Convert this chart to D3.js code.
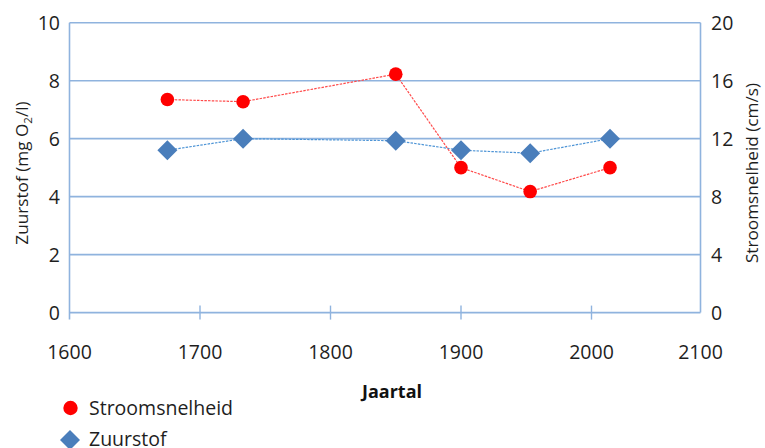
<!DOCTYPE html>
<html>
<head>
<meta charset="utf-8">
<script src="https://cdn.jsdelivr.net/npm/d3@7"></script>
<style>
  html, body { margin: 0; padding: 0; background: #fff; }
  svg { display: block; font-family: "Open Sans", "Liberation Sans", sans-serif; }
</style>
</head>
<body>
<svg id="chart" width="765" height="448"></svg>
<script>
// Meetjaren en gemeten waarden
const years = [1675, 1733, 1850, 1900, 1953, 2017];
const stroomsnelheid = [14.7, 14.55, 16.45, 10.0, 8.35, 10.0]; // cm/s (rechteras)
const zuurstof = [5.6, 6.0, 5.93, 5.6, 5.5, 6.0];              // mg O2/l (linkeras)

const xTicks = [1600, 1700, 1800, 1900, 2000, 2100];
const leftTicks = [0, 2, 4, 6, 8, 10];
const rightTicks = [0, 4, 8, 12, 16, 20];

const svg = d3.select("#chart");
const plotLeft = 69.5, plotRight = 700.5, plotTop = 22.7, plotBottom = 312.6;

const x = d3.scaleLinear().domain([1600, 2000, 2100]).range([plotLeft, 591.5, plotRight]);
const yL = d3.scaleLinear().domain([0, 10]).range([plotBottom, plotTop]);
const yR = d3.scaleLinear().domain([0, 20]).range([plotBottom, plotTop]);

const gridColor = "#8fb3de";
const textColor = "#1e1e1e";

// Horizontale rasterlijnen
svg.append("g").selectAll("line").data(leftTicks).join("line")
  .attr("x1", plotLeft).attr("x2", plotRight)
  .attr("y1", d => yL(d)).attr("y2", d => yL(d))
  .attr("stroke", gridColor).attr("stroke-width", 1.6);

// Verticale aslijnen links en rechts
svg.append("line").attr("x1", plotLeft).attr("x2", plotLeft)
  .attr("y1", plotTop).attr("y2", plotBottom + 7)
  .attr("stroke", gridColor).attr("stroke-width", 1.6);
svg.append("line").attr("x1", plotRight).attr("x2", plotRight)
  .attr("y1", plotTop).attr("y2", plotBottom)
  .attr("stroke", gridColor).attr("stroke-width", 1.6);

// Streepjes op de x-as
svg.append("g").selectAll("line").data(xTicks.filter(d => d > 1600 && d < 2100)).join("line")
  .attr("x1", d => x(d)).attr("x2", d => x(d))
  .attr("y1", plotBottom - 7).attr("y2", plotBottom + 7)
  .attr("stroke", gridColor).attr("stroke-width", 1.4);

// Aslabels
const tickFont = 19.5;
svg.append("g").selectAll("text").data(xTicks).join("text")
  .attr("x", d => x(d)).attr("y", 359)
  .attr("text-anchor", "middle").attr("font-size", tickFont).attr("fill", textColor)
  .text(d => d);
svg.append("g").selectAll("text").data(leftTicks).join("text")
  .attr("x", 60).attr("y", d => yL(d)).attr("dy", "0.36em")
  .attr("text-anchor", "end").attr("font-size", tickFont).attr("fill", textColor)
  .text(d => d);
svg.append("g").selectAll("text").data(rightTicks).join("text")
  .attr("x", 711).attr("y", d => yR(d)).attr("dy", "0.36em")
  .attr("text-anchor", "start").attr("font-size", tickFont).attr("fill", textColor)
  .text(d => d);

// Astitels
const titleY = 173;
const titleFont = 17.2;
const lt = svg.append("text")
  .attr("transform", `translate(27.5,${titleY}) rotate(-90)`)
  .attr("text-anchor", "middle").attr("font-size", titleFont).attr("fill", textColor);
lt.append("tspan").text("Zuurstof (mg O");
lt.append("tspan").attr("font-size", 11.5).attr("dy", 4).text("2");
lt.append("tspan").attr("dy", -4).text("/l)");

svg.append("text")
  .attr("transform", `translate(758,${titleY}) rotate(-90)`)
  .attr("text-anchor", "middle").attr("font-size", titleFont).attr("fill", textColor)
  .text("Stroomsnelheid (cm/s)");

svg.append("text").attr("x", 392).attr("y", 398)
  .attr("text-anchor", "middle").attr("font-size", 18).attr("font-weight", "bold").attr("fill", "#111")
  .text("Jaartal");

// Reeksen
const lineL = d3.line().x((d, i) => x(years[i])).y(d => yL(d));
const lineR = d3.line().x((d, i) => x(years[i])).y(d => yR(d));

svg.append("path").datum(zuurstof).attr("d", lineL)
  .attr("fill", "none").attr("stroke", "#4f95d6").attr("stroke-width", 1.2)
  .attr("stroke-dasharray", "2.5,1.2");
svg.append("path").datum(stroomsnelheid).attr("d", lineR)
  .attr("fill", "none").attr("stroke", "#ff4a4a").attr("stroke-width", 1.2)
  .attr("stroke-dasharray", "2.5,1.2");

const diamond = d3.symbol().type(d3.symbolSquare).size(200);
svg.append("g").selectAll("path").data(zuurstof).join("path")
  .attr("d", diamond)
  .attr("transform", (d, i) => `translate(${x(years[i])},${yL(d)}) rotate(45)`)
  .attr("fill", "#4a7ebb");

svg.append("g").selectAll("circle").data(stroomsnelheid).join("circle")
  .attr("cx", (d, i) => x(years[i])).attr("cy", d => yR(d)).attr("r", 6.8)
  .attr("fill", "#ff0000");

// Legenda
const legendFont = 19.5;
const legend = svg.append("g");
legend.append("circle").attr("cx", 70.5).attr("cy", 408).attr("r", 7.2).attr("fill", "#ff0000");
legend.append("text").attr("x", 89).attr("y", 407.5).attr("dy", "0.36em")
  .attr("font-size", legendFont).attr("fill", textColor).text("Stroomsnelheid");
legend.append("path").attr("d", diamond)
  .attr("transform", "translate(70,440) rotate(45)").attr("fill", "#4a7ebb");
legend.append("text").attr("x", 89).attr("y", 439).attr("dy", "0.36em")
  .attr("font-size", legendFont).attr("fill", textColor).text("Zuurstof");
</script>
</body>
</html>
